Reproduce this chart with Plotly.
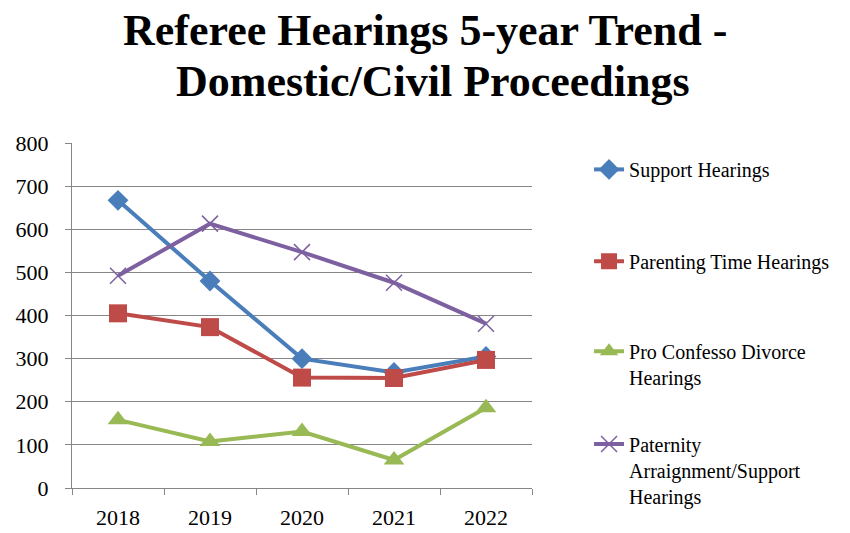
import plotly.graph_objects as go

years = ["2018", "2019", "2020", "2021", "2022"]
support = [667, 480, 300, 268, 305]
parenting = [405, 373, 256, 255, 297]
pro_confesso = [158, 108, 131, 65, 186]
paternity = [492, 613, 547, 476, 381]

names = ["Support Hearings", "Parenting Time Hearings",
         "Pro Confesso Divorce<br>Hearings",
         "Paternity<br>Arraignment/Support<br>Hearings"]
title_lines = ["Referee Hearings 5-year Trend -", "Domestic/Civil Proceedings"]
colors = ["#4A7EBB", "#BE4B48", "#98B954", "#7D60A0"]
symbols = ["diamond", "square", "triangle-up", "x-thin"]
sizes = [16, 18, 18, 16]
series = [support, parenting, pro_confesso, paternity]
legend_tops = [0.98, 0.714, 0.453, 0.184]

font_family = "Liberation Serif, DejaVu Serif, serif"

fig = go.Figure()
legend_ids = ["legend", "legend2", "legend3", "legend4"]
for i, (vals, name, c, s, sz) in enumerate(zip(series, names, colors, symbols, sizes)):
    marker = dict(symbol=s, size=sz, color=c)
    if s == "x-thin":
        marker["line"] = dict(width=1.5, color=c)
    fig.add_trace(go.Scatter(
        x=years, y=vals, name=name, mode="lines+markers",
        line=dict(color=c, width=4), marker=marker, legend=legend_ids[i]))

for txt, xp, yp in zip(title_lines, [0.7674, 0.7848], [1.326, 1.1786]):
    fig.add_annotation(text="<b>" + txt + "</b>", xref="paper", yref="paper",
                       x=xp, y=yp, xanchor="center", yanchor="middle", showarrow=False,
                       font=dict(size=44, family=font_family, color="black"))

legend_layout = {}
for lid, top in zip(legend_ids, legend_tops):
    legend_layout[lid] = dict(x=1.124, y=top, xanchor="left", yanchor="top",
                              font=dict(size=20, family=font_family, color="black"),
                              valign="top", bgcolor="rgba(0,0,0,0)", maxheight=520)

fig.update_layout(
    width=850, height=533,
    paper_bgcolor="white", plot_bgcolor="white",
    margin=dict(l=72, r=318, t=143, b=45, autoexpand=False),
    font=dict(family=font_family, color="black"),
    showlegend=True,
    **legend_layout,
)
fig.update_xaxes(type="category", showline=True, linecolor="#868686", linewidth=1,
                 ticks="outside", tickson="boundaries", ticklen=6, tickcolor="#868686",
                 showgrid=False, tickfont=dict(size=22, family=font_family, color="black"),
                 ticklabelstandoff=10, range=[-0.5, 4.5])
fig.update_yaxes(range=[0, 800], dtick=100, showline=True, linecolor="#868686", linewidth=1,
                 ticks="outside", ticklen=6, tickcolor="#868686",
                 showgrid=True, gridcolor="#868686", gridwidth=1, zeroline=False,
                 ticklabelstandoff=12,
                 tickfont=dict(size=22, family=font_family, color="black"))

fig.write_html("out.html")
